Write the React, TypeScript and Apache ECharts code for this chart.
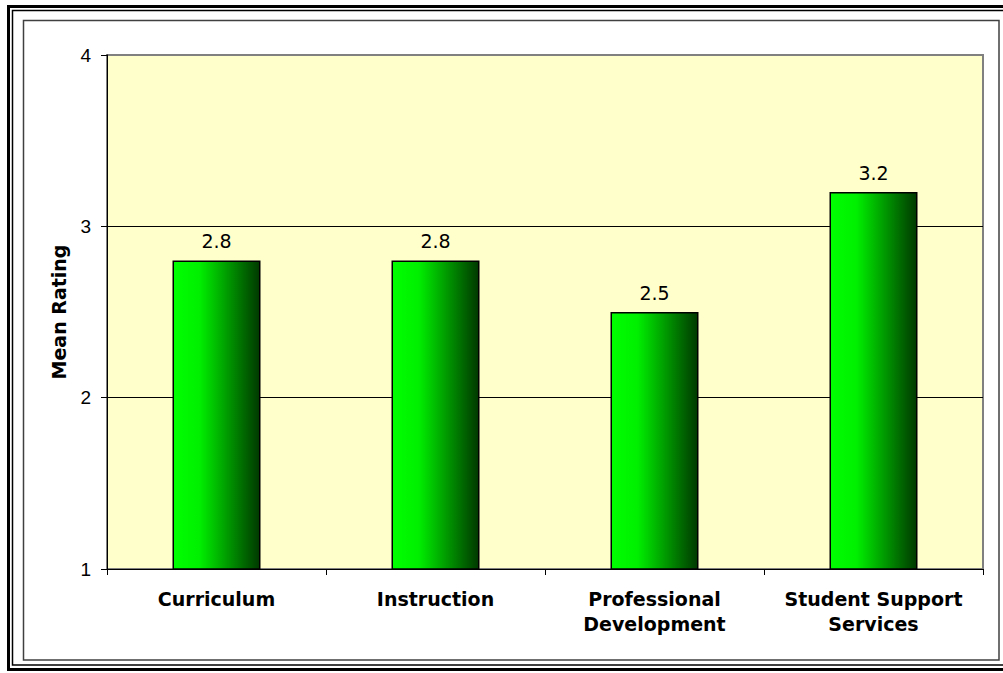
import React, { useEffect, useRef } from "react";
import * as echarts from "echarts";

const categories = ["Curriculum", "Instruction", "Professional\nDevelopment", "Student Support\nServices"];
const meanRatings = [2.8, 2.8, 2.5, 3.2];
const yMin = 1;
const yMax = 4;
const yInterval = 1;

export default function App() {
  const ref = useRef<HTMLDivElement>(null);
  useEffect(() => {
    document.body.style.margin = "0";
    const chart = echarts.init(ref.current!, null, { renderer: "svg" });
    const barColor = new echarts.graphic.LinearGradient(0, 0, 1, 0, [
      { offset: 0, color: "#00ff00" },
      { offset: 0.3, color: "#00f000" },
      { offset: 1, color: "#003800" },
    ]);
    chart.setOption({
      animation: false,
      backgroundColor: "#ffffff",
      grid: {
        left: 107,
        top: 55,
        right: 20,
        bottom: 104,
        show: true,
        backgroundColor: "#FFFFCC",
        borderColor: "#808080",
        borderWidth: 2,
      },
      xAxis: {
        type: "category",
        data: categories,
        axisLine: { show: true, lineStyle: { color: "#000", width: 1 } },
        axisTick: { show: true, alignWithLabel: false, length: 6, lineStyle: { color: "#000" } },
        axisLabel: {
          interval: 0,
          margin: 17,
          color: "#000",
          fontFamily: "DejaVu Sans",
          fontWeight: "bold",
          fontSize: 19,
          lineHeight: 25,
        },
      },
      yAxis: {
        type: "value",
        min: yMin,
        max: yMax,
        interval: yInterval,
        name: "Mean Rating",
        nameLocation: "middle",
        nameGap: 39,
        nameTextStyle: { fontFamily: "DejaVu Sans", fontWeight: "bold", fontSize: 19, color: "#000" },
        axisLine: { show: true, lineStyle: { color: "#000", width: 1 } },
        axisTick: { show: true, length: 6, lineStyle: { color: "#000" } },
        axisLabel: { color: "#000", fontFamily: "Liberation Sans", fontSize: 19, margin: 16 },
        splitLine: { show: true, showMinLine: false, showMaxLine: false, lineStyle: { color: "#000", width: 1 } },
      },
      series: [
        {
          type: "bar",
          data: meanRatings,
          barWidth: 88,
          itemStyle: { color: barColor, borderColor: "#000", borderWidth: 1.5 },
          label: {
            show: true,
            position: "top",
            distance: 10,
            color: "#000",
            fontFamily: "DejaVu Sans",
            fontSize: 19,
            formatter: (p: any) => p.value.toFixed(1),
          },
        },
      ],
      graphic: [
        { type: "rect", silent: true, shape: { x: 8.5, y: 6.5, width: 1010, height: 663 }, style: { fill: "none", stroke: "#000", lineWidth: 3 } },
        { type: "rect", silent: true, shape: { x: 12.5, y: 10.5, width: 1000, height: 654.5 }, style: { fill: "none", stroke: "#000", lineWidth: 1.5 } },
        { type: "rect", silent: true, shape: { x: 23.5, y: 20.5, width: 975.5, height: 639.5 }, style: { fill: "none", stroke: "#404040", lineWidth: 1.5 } },
      ],
    });
    return () => chart.dispose();
  }, []);
  return <div ref={ref} style={{ width: 1003, height: 673 }} />;
}
